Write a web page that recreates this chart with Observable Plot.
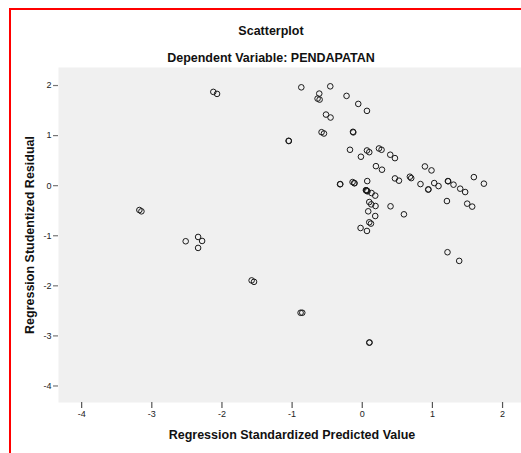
<!DOCTYPE html>
<html>
<head>
<meta charset="utf-8">
<script src="https://cdn.jsdelivr.net/npm/d3@7"></script>
<script src="https://cdn.jsdelivr.net/npm/@observablehq/plot@0.6"></script>
<style>
  body { margin: 0; background: #fff; font-family: "Liberation Sans", Arial, sans-serif; }
  #wrap { position: relative; width: 521px; height: 453px; overflow: hidden; background: #fff; }
  #border { position: absolute; left: 9px; top: 8px; width: 600px; height: 600px; border: 2px solid #ff0000; box-sizing: border-box; }
  .t { position: absolute; font-weight: bold; color: #111; white-space: nowrap; }
  #chart { position: absolute; left: 0; top: 0; }
</style>
</head>
<body>
<div id="wrap">
  <div id="border"></div>
  <div id="chart"></div>
  <div class="t" id="title" style="left:0;width:542px;text-align:center;top:24px;font-size:12.5px;">Scatterplot</div>
  <div class="t" id="subtitle" style="left:0;width:542px;text-align:center;top:51px;font-size:12.5px;">Dependent Variable: PENDAPATAN</div>
  <div class="t" id="xlabel" style="left:58px;width:468px;text-align:center;top:428px;font-size:12.5px;">Regression Standardized Predicted Value</div>
  <div class="t" id="ylabel" style="left:30px;top:235px;font-size:12.5px;transform:translate(-50%,-50%) rotate(-90deg);">Regression Studentized Residual</div>
</div>
<script>
// Regression standardized predicted values (x) and studentized residuals (y)
const predicted = [
  -0.869, -0.456, -0.613, -0.637, -0.608, -0.224, -0.057, 0.067, -0.517, -0.452,
  -0.580, -0.546, -0.132, -0.128, -1.050, -1.046, -0.175, 0.067, 0.100, 0.238,
  0.275, 0.399, 0.466, -0.019, 0.195, 0.281, 0.893, 0.987, 0.466, 0.523,
  0.679, 0.698, 0.830, 0.944, 0.940, 1.026, 1.087, 1.221, 1.225, 1.301,
  1.396, 1.467, 1.591, 1.734, 1.207, 1.496, 1.567, -0.313, -0.317, -0.138,
  -0.114, -0.110, 0.071, 0.057, 0.052, 0.062, 0.066, 0.075, 0.132, 0.185,
  0.100, 0.128, 0.189, 0.403, 0.085, 0.185, 0.594, 0.100, 0.124, -0.024,
  0.067, -1.577, -1.543, -0.879, -0.855, 0.100, 0.104, 1.215, 1.382, -2.123,
  -2.070, -3.177, -3.148, -2.517, -2.340, -2.283, -2.340
];
const residual = [
  1.964, 1.984, 1.839, 1.739, 1.719, 1.793, 1.633, 1.494, 1.420, 1.361,
  1.068, 1.042, 1.076, 1.064, 0.896, 0.892, 0.717, 0.703, 0.669, 0.743,
  0.717, 0.618, 0.550, 0.578, 0.390, 0.319, 0.384, 0.305, 0.145, 0.100,
  0.179, 0.151, 0.032, -0.074, -0.078, 0.052, -0.008, 0.092, 0.088, 0.020,
  -0.060, -0.127, 0.171, 0.040, -0.307, -0.359, -0.418, 0.032, 0.028, 0.072,
  0.052, 0.048, 0.092, -0.094, -0.090, -0.098, -0.102, -0.114, -0.147, -0.199,
  -0.327, -0.373, -0.406, -0.412, -0.512, -0.606, -0.572, -0.731, -0.757, -0.845,
  -0.904, -1.892, -1.920, -2.538, -2.538, -3.135, -3.131, -1.329, -1.502, 1.873,
  1.833, -0.486, -0.512, -1.110, -1.024, -1.104, -1.243
];
const xTicks = [-4, -3, -2, -1, 0, 1, 2];
const yTicks = [-4, -3, -2, -1, 0, 1, 2];
const xDomain = [-4.33, 2.27];
const yDomain = [-4.33, 2.36];

const data = predicted.map((x, i) => ({x, y: residual[i]}));

const chart = Plot.plot({
  width: 521,
  height: 453,
  marginLeft: 58,
  marginRight: 0,
  marginTop: 67,
  marginBottom: 51,
  style: {fontFamily: "'Liberation Sans', Arial, sans-serif", fontSize: "9px", color: "#222", background: "transparent"},
  x: {domain: xDomain, ticks: xTicks, tickFormat: d => String(d), label: null},
  y: {domain: yDomain, ticks: yTicks, tickFormat: d => String(d), label: null},
  marks: [
    Plot.frame({fill: "#f0f0f0", stroke: "none"}),
    Plot.axisX({anchor: "top", ticks: [], line: true, stroke: "#8a8a8a", strokeWidth: 1.5, label: null}),
    Plot.axisY({ticks: yTicks, tickFormat: d => String(d), tickSize: 5, tickPadding: 2, line: true, stroke: "#777", strokeWidth: 1.2, label: null}),
    Plot.axisX({ticks: xTicks, tickFormat: d => String(d), tickSize: 6, tickPadding: 2, line: true, stroke: "#555", strokeWidth: 1.2, label: null}),
    Plot.dot(data, {x: "x", y: "y", r: 2.8, stroke: "#1a1a1a", strokeWidth: 1, fill: "none"})
  ]
});
document.getElementById("chart").appendChild(chart);
</script>
</body>
</html>
